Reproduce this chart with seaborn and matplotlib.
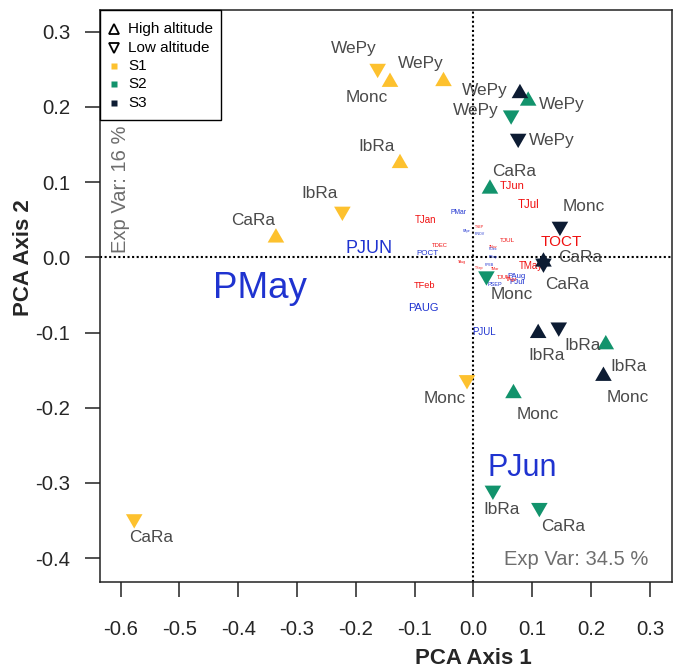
import matplotlib
matplotlib.use("Agg")
import matplotlib.pyplot as plt
from matplotlib.path import Path
from matplotlib.patches import Rectangle
import pandas as pd
import seaborn as sns

# ---- sample scores (PCA axis 1 / axis 2) ----
site = ["WePy", "Monc", "WePy", "IbRa", "IbRa", "CaRa", "CaRa", "Monc",
        "WePy", "WePy", "CaRa", "Monc", "Monc", "IbRa", "IbRa", "CaRa",
        "WePy", "WePy", "Monc", "CaRa", "CaRa", "IbRa", "IbRa", "Monc"]
season = ["S1"] * 8 + ["S2"] * 8 + ["S3"] * 8
altitude = ["Low", "High", "High", "High", "Low", "High", "Low", "Low",
            "High", "Low", "High", "Low", "High", "High", "Low", "Low",
            "High", "Low", "Low", "High", "Low", "High", "Low", "High"]
pc1 = [-0.163, -0.142, -0.051, -0.125, -0.223, -0.336, -0.577, -0.011,
       0.093, 0.064, 0.028, 0.022, 0.068, 0.225, 0.033, 0.112,
       0.079, 0.076, 0.147, 0.119, 0.119, 0.110, 0.145, 0.221]
pc2 = [0.251, 0.233, 0.234, 0.125, 0.061, 0.026, -0.348, -0.163,
       0.208, 0.189, 0.091, -0.025, -0.181, -0.116, -0.310, -0.333,
       0.218, 0.158, 0.041, -0.006, -0.008, -0.101, -0.093, -0.158]

# ---- variable labels (temperature T*, precipitation P*) ----
var_name = ["PMay", "PJun", "PJUN", "TOCT", "TJun", "TJul", "TMay", "PAug",
            "PJul", "TJUL", "TJan", "PMar", "TDEC", "POCT", "TFeb", "PAUG",
            "PJUL", "PApr", "TSEP", "PNOV", "TNov", "PDec", "PSep", "TAug",
            "TSep", "PFEB", "TMar", "TJUN", "TApr", "PSEP"]
var_x = [-0.363, 0.0825, -0.178, 0.149, 0.065, 0.094, 0.098, 0.0735,
         0.074, 0.058, -0.081, -0.025, -0.0565, -0.079, -0.084, -0.085,
         0.018, -0.012, 0.010, 0.010, 0.034, 0.034, 0.033, -0.020,
         0.009, 0.027, 0.037, 0.051, 0.065, 0.037]
var_y = [-0.042, -0.2805, 0.012, 0.020, 0.095, 0.070, -0.012, -0.0255,
         -0.034, 0.022, 0.049, 0.059, 0.016, 0.005, -0.038, -0.068,
         -0.099, 0.035, 0.040, 0.031, 0.014, 0.011, 0.001, -0.006,
         -0.014, -0.010, -0.015, -0.027, -0.030, -0.036]
var_weight = [26.5, 22, 13, 11, 8, 8.3, 7, 5.5,
              5.8, 4.6, 7, 4.9, 4.2, 5.8, 6.7, 8,
              7, 2.6, 2.6, 2.6, 2.6, 2.6, 2.6, 2.6,
              2.6, 2.6, 2.6, 4, 4, 4]

x_ticks = [-0.6, -0.5, -0.4, -0.3, -0.2, -0.1, 0.0, 0.1, 0.2, 0.3]
y_ticks = [-0.4, -0.3, -0.2, -0.1, 0.0, 0.1, 0.2, 0.3]

legend_labels = ["High altitude", "Low altitude", "S1", "S2", "S3"]

# label offsets (pixels) for the site names next to each symbol
lab_dx = [-24, -23, -23, -23, -23, -23, 17, -22,
          34, -35, 24, 25, 24, 23, 9, 24,
          -35, 34, 24, 37, 24, 8, 24, 24]
lab_dy = [-20, 15, -18, -17, -18, -17, 19, 19,
          4, -5, -17, 18, 21, 22, 19, 19,
          -3, 2, -20, -4, 21, 22, 18, 21]

season_colors = {"S1": "#FDC12E", "S2": "#12936C", "S3": "#0D1C33"}
temp_color = "#F01010"
prec_color = "#1F33D0"
text_grey = "#4A4A4A"
note_grey = "#6E6E6E"

sns.set_style("white")
plt.rcParams["font.family"] = ["Liberation Sans", "DejaVu Sans"]
plt.rcParams["axes.unicode_minus"] = False

df = pd.DataFrame({"site": site, "season": season, "altitude": altitude,
                   "pc1": pc1, "pc2": pc2})

# equilateral triangles centred on their centroid (up+down overlap as a star)
up_tri = Path([(0, 1), (-0.866, -0.5), (0.866, -0.5), (0, 1)],
              [Path.MOVETO, Path.LINETO, Path.LINETO, Path.CLOSEPOLY])
down_tri = Path([(0, -1), (0.866, 0.5), (-0.866, 0.5), (0, -1)],
                [Path.MOVETO, Path.LINETO, Path.LINETO, Path.CLOSEPOLY])

W, H = 681, 672
fig = plt.figure(figsize=(W / 100, H / 100), dpi=100)
ax = fig.add_axes([100 / W, 1 - 582 / H, 572 / W, 572 / H])

ax.axhline(0, color="black", lw=1.5, ls=(0, (1, 1.2)), zorder=1)
ax.axvline(0, color="black", lw=1.5, ls=(0, (1, 1.2)), zorder=1)

for name, x, y, w in zip(var_name, var_x, var_y, var_weight):
    col = temp_color if name.startswith("T") else prec_color
    ax.text(x, y, name, color=col, fontsize=w, ha="center", va="center",
            zorder=2)

sns.scatterplot(data=df, x="pc1", y="pc2", hue="season", style="altitude",
                palette=season_colors, markers={"High": up_tri, "Low": down_tri},
                s=190, linewidth=0, legend=False, ax=ax, zorder=3)

for i in range(len(site)):
    ax.annotate(site[i], (pc1[i], pc2[i]), xytext=(lab_dx[i], -lab_dy[i]),
                textcoords="offset pixels", ha="center", va="center",
                fontsize=12.4, color=text_grey, zorder=4)

ax.text(0.2968, -0.4025, "Exp Var: 34.5 %", ha="right", va="center",
        fontsize=14.5, color=note_grey)
ax.text(-0.601, 0.006, "Exp Var: 16 %", ha="center", va="bottom",
        rotation=90, fontsize=14.5, color=note_grey)

ax.set_xlim(-0.6352, 0.3376)
ax.set_ylim(-0.4318, 0.3289)
ax.set_xticks(x_ticks)
ax.set_xticklabels([f"{v:.1f}" for v in x_ticks])
ax.set_yticks(y_ticks)
ax.set_yticklabels([f"{v:.1f}" for v in y_ticks])
ax.tick_params(axis="both", direction="out", length=10.5, width=1.1,
               labelsize=14.7, color="#222222", left=True, bottom=True)
ax.tick_params(axis="x", pad=17)
ax.tick_params(axis="y", pad=11)
for sp in ax.spines.values():
    sp.set_visible(True)
    sp.set_color("#222222")
    sp.set_linewidth(1.1)

ax.set_xlabel("PCA Axis 1", fontsize=16, fontweight="bold")
ax.set_ylabel("PCA Axis 2", fontsize=16, fontweight="bold")
ax.xaxis.set_label_coords((473.5 - 100) / 572, -(658 - 582) / 572)
ax.xaxis.label.set_va("center")
ax.yaxis.set_label_coords(-(100 - 24) / 572, (582 - 257.3) / 572)
ax.yaxis.label.set_va("center")

# ---- key box in the upper-left corner (positions in axes pixels) ----
def ax_frac(px, py):
    return (px - 100) / 572, (582 - py) / 572

x0, y0 = ax_frac(100, 120)
x1, y1 = ax_frac(220.5, 10)
ax.add_patch(Rectangle((x0, y0), x1 - x0, y1 - y0, transform=ax.transAxes,
                       facecolor="white", edgecolor="black", lw=1.0,
                       zorder=6, clip_on=False))
key_markers = [dict(marker="^", mfc="none", mec="black", ms=7, mew=1.3),
               dict(marker="v", mfc="none", mec="black", ms=7, mew=1.3),
               dict(marker="s", mfc=season_colors["S1"], mec="none", ms=4.2),
               dict(marker="s", mfc=season_colors["S2"], mec="none", ms=4.2),
               dict(marker="s", mfc=season_colors["S3"], mec="none", ms=4.2)]
for i, (lab, mk) in enumerate(zip(legend_labels, key_markers)):
    ry = 29.3 + 18.35 * i
    mx, my = ax_frac(114, ry)
    ax.plot([mx], [my], ls="none", transform=ax.transAxes, clip_on=False,
            zorder=7, **mk)
    tx, ty = ax_frac(128, ry)
    ax.text(tx, ty, lab, transform=ax.transAxes, ha="left", va="center",
            fontsize=11, color="black", zorder=7)

fig.savefig("out.png", dpi=100)
